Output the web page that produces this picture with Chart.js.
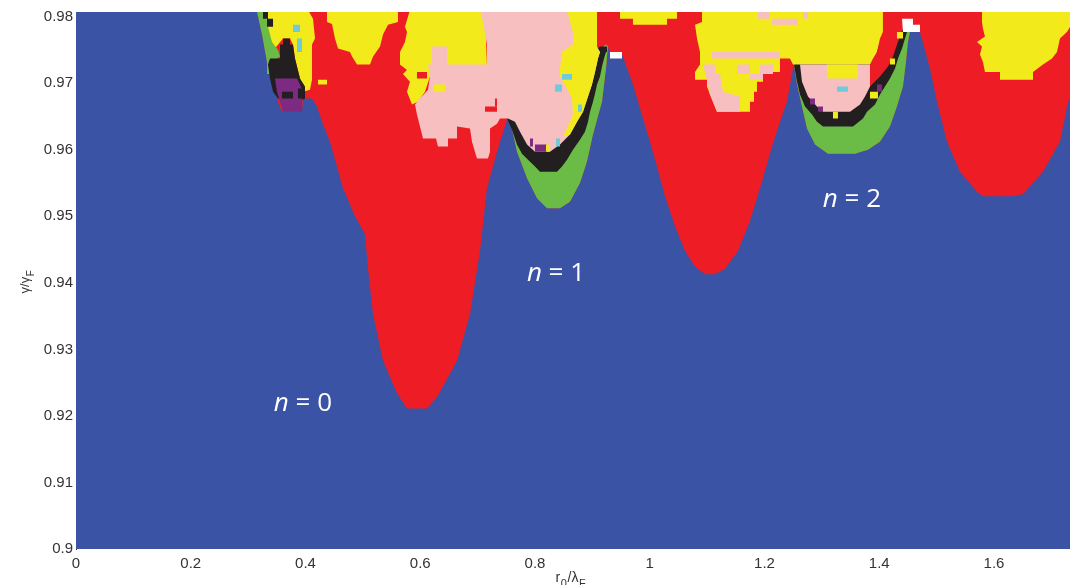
<!DOCTYPE html>
<html><head><meta charset="utf-8">
<script src="https://cdn.jsdelivr.net/npm/chart.js@4.4.1/dist/chart.umd.min.js"></script>
<style>html,body{margin:0;padding:0;background:#fff}#wrap{width:1077px;height:585px;position:relative}</style>
</head><body><div id="wrap"><canvas id="c"></canvas></div>
<script>
// ---- axes ----
const xTicks = [0, 0.2, 0.4, 0.6, 0.8, 1, 1.2, 1.4, 1.6];
const xTickLabels = ['0', '0.2', '0.4', '0.6', '0.8', '1', '1.2', '1.4', '1.6'];
const yTicks = [0.9, 0.91, 0.92, 0.93, 0.94, 0.95, 0.96, 0.97, 0.98];
const yTickLabels = ['0.9', '0.91', '0.92', '0.93', '0.94', '0.95', '0.96', '0.97', '0.98'];
const xRange = [0, 1.7325];
const yRange = [0.9, 0.9807];
const xTitleParts = [['r', 0], ['0', 1], ['/\u03BB', 0], ['F', 1]];
const yTitleParts = [['\u03B3/\u03B3', 0], ['F', 1]];
const regimeLabels = [
  { n: 0, x: 0.3956, y: 0.9208 },
  { n: 1, x: 0.8366, y: 0.9403 },
  { n: 2, x: 1.3525, y: 0.9514 }
];

// ---- regions (x = r0/lambdaF, y = gamma/gammaF) ----
const redZone = [[0.3155,0.9810],[0.3155,0.9807],[0.3242,0.9773],[0.3329,0.9732],[0.3381,0.9707],[0.3468,0.9692],[0.3521,0.9672],[0.3590,0.9657],[0.3939,0.9657],[0.3956,0.9677],[0.4113,0.9677],[0.4200,0.9665],[0.4288,0.9642],[0.4427,0.9612],[0.4654,0.9542],[0.4863,0.9500],[0.5037,0.9473],[0.5089,0.9422],[0.5177,0.9353],[0.5351,0.9283],[0.5595,0.9234],[0.5769,0.9211],[0.6118,0.9211],[0.6292,0.9228],[0.6641,0.9283],[0.6867,0.9353],[0.7041,0.9448],[0.7163,0.9542],[0.7338,0.9597],[0.7512,0.9645],[0.7564,0.9645],[0.7686,0.9597],[0.7861,0.9557],[0.8035,0.9527],[0.8209,0.9512],[0.8436,0.9512],[0.8610,0.9522],[0.8784,0.9550],[0.8906,0.9582],[0.9011,0.9623],[0.9168,0.9672],[0.9238,0.9722],[0.9272,0.9755],[0.9307,0.9744],[0.9516,0.9744],[0.9708,0.9698],[0.9882,0.9647],[1.0004,0.9612],[1.0126,0.9575],[1.0266,0.9530],[1.0440,0.9485],[1.0614,0.9448],[1.0789,0.9424],[1.0963,0.9413],[1.1137,0.9413],[1.1312,0.9421],[1.1538,0.9448],[1.1747,0.9493],[1.1956,0.9552],[1.2131,0.9605],[1.2270,0.9642],[1.2392,0.9672],[1.2479,0.9713],[1.2514,0.9728],[1.2567,0.9698],[1.2654,0.9665],[1.2741,0.9632],[1.2880,0.9608],[1.3107,0.9594],[1.3577,0.9594],[1.3804,0.9600],[1.4013,0.9612],[1.4187,0.9635],[1.4309,0.9665],[1.4414,0.9695],[1.4466,0.9732],[1.4501,0.9762],[1.4536,0.9777],[1.4710,0.9777],[1.4885,0.9722],[1.5007,0.9672],[1.5181,0.9612],[1.5407,0.9567],[1.5704,0.9537],[1.5808,0.9530],[1.6279,0.9530],[1.6506,0.9533],[1.6854,0.9567],[1.7150,0.9612],[1.7290,0.9672],[1.7350,0.9680],[1.7350,0.9810]];

const greenN1 = [[0.7512,0.9645],[0.7564,0.9645],[0.7686,0.9597],[0.7861,0.9557],[0.8035,0.9527],[0.8209,0.9512],[0.8436,0.9512],[0.8610,0.9522],[0.8784,0.9550],[0.8906,0.9582],[0.9011,0.9623],[0.9168,0.9672],[0.9238,0.9722],[0.9272,0.9755],[0.9238,0.9758]];
const greenN2 = [[1.2514,0.9728],[1.2567,0.9698],[1.2654,0.9665],[1.2741,0.9632],[1.2880,0.9608],[1.3107,0.9594],[1.3577,0.9594],[1.3804,0.9600],[1.4013,0.9612],[1.4187,0.9635],[1.4309,0.9665],[1.4414,0.9695],[1.4466,0.9732],[1.4501,0.9762],[1.4536,0.9777],[1.4484,0.9780]];
const greenTopLeft = [[0.3155,0.9810],[0.3294,0.9810],[0.3346,0.9785],[0.3416,0.9762],[0.3521,0.9750],[0.3556,0.9740],[0.3416,0.9732],[0.3434,0.9714],[0.3329,0.9714],[0.3329,0.9732],[0.3242,0.9773],[0.3155,0.9807]];

const blackTopLeftStrip = [[0.3259,0.9810],[0.3346,0.9810],[0.3346,0.9797],[0.3434,0.9797],[0.3434,0.9785],[0.3329,0.9785],[0.3329,0.9797],[0.3259,0.9797]];
const blackTopLeft = [[0.3608,0.9767],[0.3730,0.9767],[0.3730,0.9758],[0.3782,0.9758],[0.3817,0.9737],[0.3852,0.9725],[0.3904,0.9707],[0.3991,0.9695],[0.3991,0.9677],[0.3869,0.9672],[0.3643,0.9672],[0.3521,0.9677],[0.3434,0.9687],[0.3381,0.9707],[0.3346,0.9728],[0.3381,0.9737],[0.3556,0.9737],[0.3556,0.9758],[0.3608,0.9758]];
const blackN1 = [[0.7512,0.9647],[0.7599,0.9630],[0.7686,0.9608],[0.7773,0.9594],[0.7878,0.9585],[0.8000,0.9575],[0.8087,0.9567],[0.8383,0.9567],[0.8471,0.9575],[0.8558,0.9585],[0.8662,0.9600],[0.8784,0.9615],[0.8871,0.9627],[0.8924,0.9642],[0.8959,0.9657],[0.9011,0.9672],[0.9046,0.9684],[0.9081,0.9698],[0.9133,0.9710],[0.9168,0.9725],[0.9203,0.9737],[0.9238,0.9747],[0.9255,0.9755],[0.9133,0.9755]];
const blackN2 = [[1.2514,0.9728],[1.2567,0.9702],[1.2619,0.9683],[1.2706,0.9665],[1.2828,0.9653],[1.2915,0.9642],[1.3020,0.9635],[1.3542,0.9635],[1.3717,0.9647],[1.3787,0.9657],[1.3926,0.9668],[1.4013,0.9683],[1.4100,0.9695],[1.4187,0.9707],[1.4275,0.9722],[1.4327,0.9737],[1.4397,0.9752],[1.4449,0.9767],[1.4484,0.9777],[1.4449,0.9782]];

const purpleTopLeft = [[0.3468,0.9707],[0.3852,0.9707],[0.3904,0.9698],[0.3956,0.9687],[0.3939,0.9672],[0.3939,0.9657],[0.3608,0.9657],[0.3556,0.9672],[0.3503,0.9687]];

const yellowTopLeft = [[0.3294,0.9810],[0.4044,0.9810],[0.4131,0.9797],[0.4166,0.9767],[0.4113,0.9758],[0.4113,0.9705],[0.4078,0.9690],[0.3956,0.9687],[0.3904,0.9707],[0.3852,0.9725],[0.3817,0.9737],[0.3782,0.9758],[0.3730,0.9767],[0.3608,0.9767],[0.3416,0.9747],[0.3294,0.9777]];
const yellowTopLeft2 = [[0.4375,0.9810],[0.5612,0.9810],[0.5612,0.9792],[0.5438,0.9788],[0.5351,0.9773],[0.5299,0.9755],[0.5177,0.9740],[0.5124,0.9728],[0.4898,0.9728],[0.4811,0.9740],[0.4776,0.9747],[0.4567,0.9752],[0.4514,0.9767],[0.4462,0.9789],[0.4375,0.9792]];
const yellowN1Left = [[0.5821,0.9810],[0.7129,0.9810],[0.7163,0.9725],[0.6170,0.9725],[0.6170,0.9710],[0.6083,0.9687],[0.5961,0.9672],[0.5856,0.9668],[0.5769,0.9687],[0.5821,0.9702],[0.5699,0.9714],[0.5769,0.9720],[0.5647,0.9728],[0.5647,0.9747],[0.5734,0.9762],[0.5769,0.9777],[0.5734,0.9785]];
const yellowN1Arm = [[0.8558,0.9810],[0.9081,0.9810],[0.9081,0.9752],[0.9133,0.9747],[0.9098,0.9737],[0.9046,0.9717],[0.8993,0.9698],[0.8924,0.9680],[0.8837,0.9657],[0.8732,0.9642],[0.8610,0.9623],[0.8488,0.9620],[0.8558,0.9632],[0.8662,0.9653],[0.8645,0.9677],[0.8558,0.9692],[0.8436,0.9710],[0.8436,0.9722],[0.8471,0.9747],[0.8662,0.9758],[0.8662,0.9777],[0.8610,0.9792]];
const yellowTopMid = [[0.9482,0.9810],[1.0475,0.9810],[1.0475,0.9797],[1.0301,0.9797],[1.0301,0.9788],[0.9708,0.9788],[0.9708,0.9797],[0.9482,0.9797]];
const yellowCentral = [[1.0911,0.9810],[1.4065,0.9810],[1.4065,0.9777],[1.3961,0.9747],[1.3874,0.9728],[1.2497,0.9728],[1.2444,0.9737],[1.2270,0.9737],[1.2270,0.9717],[1.1974,0.9717],[1.1974,0.9702],[1.1869,0.9702],[1.1869,0.9687],[1.1817,0.9687],[1.1817,0.9672],[1.1747,0.9672],[1.1747,0.9657],[1.1172,0.9657],[1.1102,0.9672],[1.1050,0.9683],[1.0998,0.9695],[1.0998,0.9705],[1.0789,0.9705],[1.0789,0.9717],[1.0876,0.9728],[1.0876,0.9747],[1.0824,0.9767],[1.0789,0.9788],[1.0911,0.9792]];
const yellowRight = [[1.5791,0.9810],[1.7350,0.9810],[1.7350,0.9788],[1.7272,0.9777],[1.7150,0.9767],[1.7098,0.9747],[1.7011,0.9737],[1.6854,0.9728],[1.6680,0.9717],[1.6680,0.9705],[1.6105,0.9705],[1.6105,0.9717],[1.5843,0.9717],[1.5808,0.9732],[1.5756,0.9743],[1.5791,0.9755],[1.5704,0.9762],[1.5843,0.9770],[1.5808,0.9782],[1.5791,0.9792]];

const pinkN1 = [[0.7041,0.9810],[0.9081,0.9810],[0.9081,0.9755],[0.9133,0.9747],[0.9098,0.9737],[0.9046,0.9717],[0.8993,0.9698],[0.8924,0.9680],[0.8837,0.9657],[0.8732,0.9642],[0.8610,0.9623],[0.8436,0.9608],[0.8261,0.9597],[0.8000,0.9597],[0.7861,0.9608],[0.7739,0.9627],[0.7651,0.9642],[0.7529,0.9647],[0.7390,0.9647],[0.7338,0.9639],[0.7216,0.9632],[0.7216,0.9597],[0.7181,0.9587],[0.6989,0.9587],[0.6902,0.9612],[0.6867,0.9632],[0.6641,0.9635],[0.6641,0.9617],[0.6484,0.9617],[0.6484,0.9605],[0.6309,0.9605],[0.6275,0.9617],[0.6048,0.9617],[0.5996,0.9635],[0.5943,0.9653],[0.5909,0.9668],[0.5996,0.9677],[0.6135,0.9690],[0.6170,0.9710],[0.6135,0.9728],[0.6205,0.9728],[0.6205,0.9755],[0.6466,0.9755],[0.6466,0.9728],[0.7163,0.9728],[0.7163,0.9758],[0.7094,0.9792]];
const pinkCentral = [[1.0928,0.9728],[1.1137,0.9728],[1.1137,0.9714],[1.1224,0.9714],[1.1277,0.9687],[1.1573,0.9680],[1.1573,0.9657],[1.1172,0.9657],[1.1050,0.9683],[1.0998,0.9705]];
const pinkN2 = [[1.2619,0.9728],[1.3839,0.9728],[1.3839,0.9695],[1.3752,0.9680],[1.3665,0.9668],[1.3490,0.9657],[1.3020,0.9657],[1.2915,0.9665],[1.2758,0.9680],[1.2654,0.9702]];
const redN2Arm = [[1.4065,0.9810],[1.4414,0.9810],[1.4414,0.9782],[1.4309,0.9758],[1.4240,0.9740],[1.4153,0.9725],[1.4013,0.9710],[1.3839,0.9695],[1.3839,0.9728],[1.3891,0.9737],[1.3961,0.9747],[1.4013,0.9767],[1.4065,0.9777]];
const whiteN2 = [[1.4397,0.9797],[1.4588,0.9797],[1.4588,0.9788],[1.4710,0.9788],[1.4710,0.9777],[1.4414,0.9777]];

// small single cells: [colour, x0, y0, x1, y1]
const cells = [
  ['black', 0.3590,0.9687,0.3782,0.9677],
  ['black', 0.3869,0.9692,0.3991,0.9677],
  ['cyan', 0.3782,0.9788,0.3904,0.9777],
  ['cyan', 0.3852,0.9767,0.3939,0.9747],
  ['yellow', 0.4218,0.9705,0.4375,0.9698],
  ['red', 0.5943,0.9717,0.6118,0.9707],
  ['yellow', 0.6222,0.9698,0.6431,0.9687],
  ['red', 0.7129,0.9665,0.7338,0.9657],
  ['red', 0.7303,0.9677,0.7338,0.9665],
  ['purple', 0.7913,0.9617,0.7965,0.9605],
  ['purple', 0.8000,0.9608,0.8209,0.9597],
  ['yellow', 0.8192,0.9608,0.8261,0.9597],
  ['cyan', 0.8366,0.9617,0.8436,0.9605],
  ['cyan', 0.8471,0.9714,0.8645,0.9705],
  ['cyan', 0.8349,0.9698,0.8471,0.9687],
  ['cyan', 0.8750,0.9668,0.8819,0.9657],
  ['white', 0.9307,0.9747,0.9516,0.9737],
  ['pink', 1.1085,0.9747,1.2270,0.9737],
  ['pink', 1.1521,0.9728,1.1747,0.9714],
  ['pink', 1.1922,0.9728,1.2148,0.9714],
  ['pink', 1.1747,0.9714,1.1974,0.9705],
  ['pink', 1.1887,0.9810,1.2096,0.9797],
  ['pink', 1.2131,0.9797,1.2584,0.9788],
  ['pink', 1.2671,0.9810,1.2758,0.9797],
  ['yellow', 1.3089,0.9728,1.3630,0.9707],
  ['cyan', 1.3264,0.9695,1.3455,0.9687],
  ['yellow', 1.3194,0.9657,1.3281,0.9647],
  ['purple', 1.3961,0.9698,1.4048,0.9687],
  ['purple', 1.2793,0.9677,1.2880,0.9668],
  ['purple', 1.2932,0.9665,1.3020,0.9657],
  ['yellow', 1.4309,0.9777,1.4414,0.9767],
  ['yellow', 1.4187,0.9737,1.4275,0.9728],
  ['yellow', 1.3839,0.9687,1.3978,0.9677]
];

const COLORS = {
  blue: '#3A53A4', red: '#EE1D25', yellow: '#F2EA1B', green: '#6BBC46',
  black: '#231F20', pink: '#F8BFC0', purple: '#7D2A82', cyan: '#6DCBDC', white: '#FFFFFF'
};

// painter's order, bottom first
const layers = [
  ['red', redZone],
  ['yellow', yellowTopLeft2], ['yellow', yellowN1Left], ['yellow', yellowTopMid], ['yellow', yellowRight], ['yellow', yellowTopLeft],
  ['green', greenTopLeft], ['green', greenN1], ['green', greenN2],
  ['black', blackTopLeftStrip], ['black', blackTopLeft], ['black', blackN1], ['black', blackN2],
  ['purple', purpleTopLeft],
  ['pink', pinkN1], ['yellow', yellowN1Arm], ['yellow', yellowCentral],
  ['pink', pinkCentral], ['pink', pinkN2], ['red', redN2Arm], ['white', whiteN2]
];
cells.forEach(c => layers.push([c[0], [[c[1],c[2]],[c[3],c[2]],[c[3],c[4]],[c[1],c[4]]]]));

const datasets = layers.map((L, i) => ({
  data: L[1].map(p => ({ x: p[0], y: p[1] })),
  backgroundColor: COLORS[L[0]],
  borderColor: COLORS[L[0]],
  borderWidth: 0,
  pointRadius: 0,
  tension: 0,
  fill: 'shape',
  order: layers.length - i
}));

const bgPlugin = {
  id: 'bgArea',
  beforeDatasetsDraw(chart) {
    const { ctx, chartArea: a } = chart;
    ctx.save();
    ctx.fillStyle = COLORS.blue;
    ctx.fillRect(a.left, a.top, a.right - a.left, a.bottom - a.top);
    ctx.restore();
  }
};

function drawParts(ctx, parts, x, y, size, subSize, subDrop) {
  let total = 0;
  const widths = parts.map(p => {
    ctx.font = (p[1] ? subSize : size) + 'px "Liberation Sans", Arial, sans-serif';
    const w = ctx.measureText(p[0]).width + 0.6; total += w; return w;
  });
  let cx = x - total / 2;
  parts.forEach((p, i) => {
    ctx.font = (p[1] ? subSize : size) + 'px "Liberation Sans", Arial, sans-serif';
    ctx.fillText(p[0], cx, y + (p[1] ? subDrop : 0));
    cx += widths[i];
  });
}

const textPlugin = {
  id: 'texts',
  afterDatasetsDraw(chart) {
    const { ctx, scales } = chart;
    ctx.save();
    ctx.fillStyle = '#FFFFFF';
    ctx.textBaseline = 'alphabetic';
    ctx.textAlign = 'left';
    regimeLabels.forEach(L => {
      ctx.font = 'italic 26px "Open Sans"';
      const wn = ctx.measureText('n').width;
      ctx.font = '26px "Open Sans"';
      const rest = ' = ' + L.n;
      const wr = ctx.measureText(rest).width;
      const px = scales.x.getPixelForValue(L.x) - (wn + wr) / 2;
      const py = scales.y.getPixelForValue(L.y);
      ctx.font = 'italic 26px "Open Sans"';
      ctx.fillText('n', px, py);
      ctx.font = '26px "Open Sans"';
      ctx.fillText(rest, px + wn, py);
    });
    ctx.restore();
  },
  afterDraw(chart) {
    const { ctx, chartArea: a } = chart;
    ctx.save();
    ctx.fillStyle = '#333333';
    ctx.textBaseline = 'alphabetic';
    ctx.textAlign = 'left';
    drawParts(ctx, xTitleParts, (a.left + a.right) / 2 - 2, a.bottom + 33, 14, 11, 5);
    ctx.translate(29, (a.top + a.bottom) / 2 + 1);
    ctx.rotate(-Math.PI / 2);
    drawParts(ctx, yTitleParts, 0, 0, 13, 10, 5);
    ctx.restore();
  }
};

new Chart(document.getElementById('c'), {
  type: 'line',
  data: { datasets },
  plugins: [bgPlugin, textPlugin],
  options: {
    responsive: true,
    maintainAspectRatio: false,
    animation: false,
    events: [],
    layout: { padding: { top: 10, right: 7, left: 0, bottom: 0 } },
    plugins: { legend: { display: false }, tooltip: { enabled: false }, filler: { propagate: false } },
    scales: {
      x: {
        type: 'linear', min: xRange[0], max: xRange[1],
        grid: { display: false, drawTicks: false },
        border: { display: false },
        afterBuildTicks: s => { s.ticks = xTicks.map(v => ({ value: v })); },
        ticks: {
          callback: (v, i) => xTickLabels[i], padding: 6, color: '#333333', autoSkip: false, maxRotation: 0,
          font: { family: '"Liberation Sans", Arial, sans-serif', size: 15 }
        },
        afterFit: s => { s.height = 36; }
      },
      y: {
        type: 'linear', min: yRange[0], max: yRange[1],
        grid: { display: false, drawTicks: false },
        border: { display: true, color: '#333333', width: 1 },
        afterBuildTicks: s => { s.ticks = yTicks.map(v => ({ value: v })); },
        ticks: {
          callback: (v, i) => yTickLabels[i], padding: 3, color: '#333333', autoSkip: false,
          font: { family: '"Liberation Sans", Arial, sans-serif', size: 15 }
        },
        afterFit: s => { s.width = 76; }
      }
    }
  }
});
</script>
</body></html>
